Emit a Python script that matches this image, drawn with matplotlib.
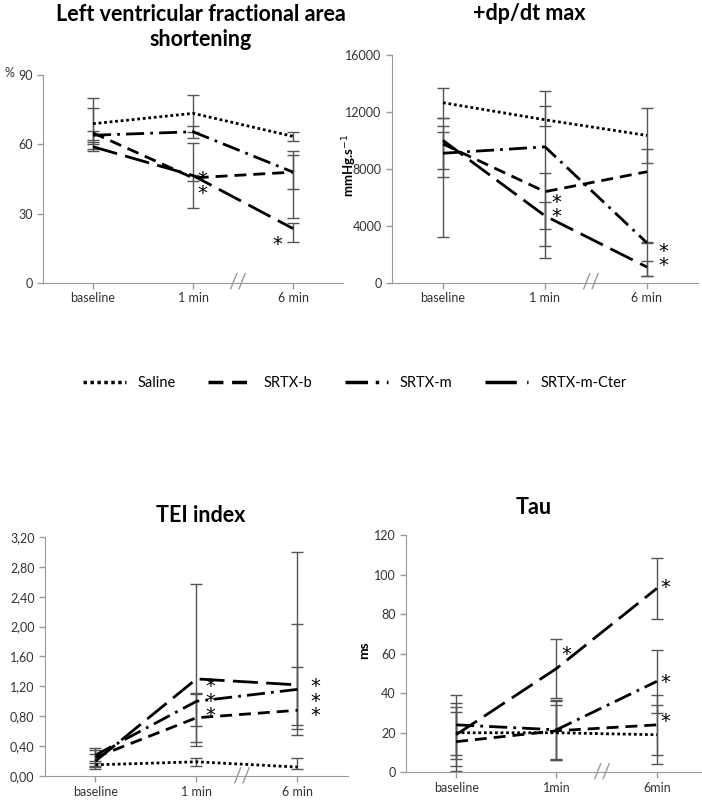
from matplotlib import pyplot as plt
import numpy as np

plt.rcParams["font.family"] = ["Lato", "DejaVu Sans"]

# categories
cats_top = ["baseline", "1 min", "6 min"]
cats_bot = ["baseline", "1 min", "6 min"]
cats_tau = ["baseline", "1min", "6min"]
groups = ["Saline", "SRTX-b", "SRTX-m", "SRTX-m-Cter"]

# fractional area shortening (%)
fas_mean = [[69, 73.5, 63.5], [65, 45.5, 48], [64, 65.5, 48], [59, 46.5, 23.5]]
fas_lo = [[11, 8.1, 2], [5, 1.2, 7.5], [2, 2.7, 19.8], [1.7, 14, 6]]
fas_hi = [[11, 8.1, 2], [11, 1.2, 7.5], [2, 2.7, 9.3], [2, 14, 2.5]]

# +dp/dt max (mmHg/s)
dp_mean = [[12650, 11450, 10350], [9750, 6400, 7800], [9100, 9550, 2800], [10000, 4700, 1100]]
dp_lo = [[1050, 440, 1950], [1790, 4690, 5000], [1650, 7000, 2300], [6814, 950, 608]]
dp_hi = [[1050, 2020, 1950], [1800, 1330, 1617], [1500, 2865, 70], [986, 950, 423]]

# TEI index
tei_mean = [[0.15, 0.19, 0.12], [0.25, 0.78, 0.88], [0.28, 1.00, 1.16], [0.20, 1.30, 1.22]]
tei_lo = [[0.03, 0.055, 0.03], [0.05, 0.11, 0.2], [0.15, 0.54, 0.535], [0.1, 0.9, 0.67]]
tei_hi = [[0.03, 0.055, 0.12], [0.05, 0.33, 0.58], [0.1, 0.1, 0.88], [0.15, 1.27, 1.78]]

# Tau (ms)
tau_mean = [[20, 20, 19], [15.5, 21, 24], [24, 21.5, 46], [19, 52.5, 93]]
tau_err = [[13.2, 14, 15], [15, 15, 15], [15, 15, 16], [16, 15, 15.3]]

# significance stars: (x position, y position)
stars_fas = [(1.09, 47), (1.09, 41), (1.84, 18.5)]
stars_dp = [(1.11, 5950), (1.11, 4970), (2.16, 2510), (2.16, 1530)]
stars_tei = [(1.14, 1.26), (1.14, 1.06), (1.14, 0.87), (2.18, 1.26), (2.18, 1.06), (2.18, 0.87)]
stars_tau = [(2.08, 96), (1.10, 62), (2.08, 48), (2.08, 28)]

styles = [(0, (1, 1)), (0, (4.3, 2.5)), (0, (6.5, 2.2, 1, 2.2)), (0, (9, 3))]
grey = "#9a9a9a"
x = np.arange(3)

fig = plt.figure(figsize=(7.02, 8.01), dpi=100)


def panel(rect, means, lo, hi, cats, ylim, yticks, yticklabels, stars, xmax=2.5):
    ax = fig.add_axes(rect)
    for i in range(4):
        ax.errorbar(x, means[i], yerr=[lo[i], hi[i]], fmt="none", ecolor="#555555",
                    elinewidth=1, capsize=4, capthick=1, zorder=1)
        ax.plot(x, means[i], color="black", lw=2, linestyle=styles[i], label=groups[i], zorder=2)
    for sx, sy in stars:
        ax.annotate("*", (sx, sy), xytext=(0, -3.5), textcoords="offset points",
                    fontsize=14, family="DejaVu Sans", ha="center", va="center")
    ax.set_xlim(-0.5, xmax)
    ax.set_ylim(*ylim)
    ax.set_xticks(x)
    ax.set_xticklabels(cats)
    ax.set_yticks(yticks)
    ax.set_yticklabels(yticklabels)
    for s in ["top", "right"]:
        ax.spines[s].set_visible(False)
    for s in ["left", "bottom"]:
        ax.spines[s].set_color(grey)
    ax.tick_params(colors=grey, labelcolor="#333333", labelsize=9, length=4, width=1)
    ax.tick_params(axis="x", pad=3)
    # axis break
    ax.text(1.45, ylim[0], "//", fontsize=15, color=grey, ha="center", va="center",
            clip_on=False)
    return ax


axA = panel([0.0613, 0.6470, 0.4274, 0.2590], fas_mean, fas_lo, fas_hi, cats_top,
            (0, 90), [0, 30, 60, 90], ["0", "30", "60", "90"], stars_fas)
axB = panel([0.5584, 0.6470, 0.4359, 0.2843], dp_mean, dp_lo, dp_hi, cats_top,
            (0, 16000), [0, 4000, 8000, 12000, 16000],
            ["0", "4000", "8000", "12000", "16000"], stars_dp)
axC = panel([0.0641, 0.0312, 0.4316, 0.2984], tei_mean, tei_lo, tei_hi, cats_bot,
            (0, 3.2), np.arange(0, 3.21, 0.4),
            ["0,00", "0,40", "0,80", "1,20", "1,60", "2,00", "2,40", "2,80", "3,20"], stars_tei)
axD = panel([0.5783, 0.0358, 0.4217, 0.2963], tau_mean, tau_err, tau_err, cats_tau,
            (0, 120), [0, 20, 40, 60, 80, 100, 120],
            ["0", "20", "40", "60", "80", "100", "120"], stars_tau, xmax=2.45)

fig.text(201 / 702, 1 - 27 / 801, "Left ventricular fractional area\nshortening",
         fontsize=15.5, fontweight="bold", ha="center", va="center", linespacing=1.25)
fig.text(529 / 702, 1 - 13 / 801, "+dp/dt max", fontsize=15.5, fontweight="bold",
         ha="center", va="center")
fig.text(201 / 702, 1 - 515 / 801, "TEI index", fontsize=15.5, fontweight="bold",
         ha="center", va="center")
fig.text(534 / 702, 1 - 507 / 801, "Tau", fontsize=15.5, fontweight="bold",
         ha="center", va="center")

fig.text(9 / 702, 1 - 73 / 801, "%", fontsize=9, color="#333333", ha="center", va="center")
fig.text(350 / 702, 1 - 165 / 801, "mmHg.s$^{-1}$", fontsize=9.5, fontweight="bold",
         rotation=90, ha="center", va="center")
fig.text(364 / 702, 1 - 650 / 801, "ms", fontsize=10, fontweight="bold",
         rotation=90, ha="center", va="center")

handles, labels = axA.get_legend_handles_labels()
leg = fig.legend(handles, labels, loc="center", bbox_to_anchor=(0.505, 1 - 383 / 801),
                 ncol=4, frameon=False, fontsize=10.5, handlelength=3.0,
                 columnspacing=2.2, handletextpad=0.8)
for line in leg.get_lines():
    line.set_linewidth(2.5)

plt.savefig("out.png", dpi=100)
